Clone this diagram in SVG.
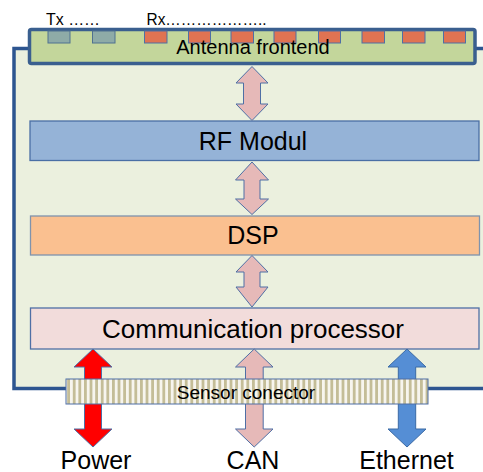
<svg xmlns="http://www.w3.org/2000/svg" width="483" height="472" viewBox="0 0 483 472">
<defs>
<style>
text{font-family:"Liberation Sans",Arial,sans-serif;fill:#000;}
.box{stroke-width:1.3;}
.pink{fill:#e6b9b8;stroke:#4f6fa5;stroke-width:1;}
.tx{fill:#8eaba7;stroke:#4f7090;stroke-width:1;}
.rx{fill:#e07352;stroke:#4f6fa5;stroke-width:1;}
</style>
<pattern id="stripes" x="0" y="0" width="5.6" height="10" patternUnits="userSpaceOnUse">
<rect x="0" y="0" width="5.6" height="10" fill="#f7f5ee"/>
<rect x="0" y="0" width="2.8" height="10" fill="#c4bd97"/>
</pattern>
</defs>
<rect width="483" height="472" fill="#ffffff"/>
<g id="container">
<rect x="14" y="48.5" width="500" height="340" fill="#ebf0de" stroke="#2d5590" stroke-width="3.5"/>
</g>
<g id="antenna">
<rect x="29.5" y="29.5" width="445.5" height="34" rx="2" fill="#c3d69b" stroke="#3a5f8f" stroke-width="3.5"/>
<rect class="tx" x="48" y="31" width="22" height="12"/>
<rect class="tx" x="92.5" y="31" width="22.5" height="12"/>
<rect class="rx" x="144.5" y="31" width="22.5" height="12"/>
<rect class="rx" x="188.5" y="31" width="22" height="12"/>
<rect class="rx" x="231" y="31" width="22.5" height="12"/>
<rect class="rx" x="274" y="31" width="22" height="12"/>
<rect class="rx" x="318.5" y="31" width="22" height="12"/>
<rect class="rx" x="362" y="31" width="22.5" height="12"/>
<rect class="rx" x="402.5" y="31" width="22.5" height="12"/>
<rect class="rx" x="443.5" y="31" width="22" height="12"/>
<text x="253" y="53.5" font-size="20" text-anchor="middle">Antenna frontend</text>
</g>
<g id="labels-txrx">
<text x="46" y="25" font-size="17" textLength="54" lengthAdjust="spacingAndGlyphs">Tx ……</text>
<text x="146.5" y="25" font-size="17" textLength="120" lengthAdjust="spacingAndGlyphs">Rx………………..</text>
</g>
<g id="rf">
<rect class="box" x="30" y="121" width="449" height="39.5" fill="#95b3d7" stroke="#4a6fa5"/>
<text x="253" y="150" font-size="25" text-anchor="middle">RF Modul</text>
</g>
<g id="dsp">
<rect class="box" x="30.5" y="216" width="449" height="39" fill="#fac090" stroke="#7f93ad"/>
<text x="253" y="244" font-size="25" text-anchor="middle">DSP</text>
</g>
<g id="comm">
<rect class="box" x="30.5" y="308" width="448.5" height="41" fill="#f2dcdb" stroke="#4f6fa5"/>
<text x="253" y="338" font-size="25" text-anchor="middle" textLength="302" lengthAdjust="spacingAndGlyphs">Communication processor</text>
</g>
<g id="connectors">
<path class="pink" d="M252 66.5 L268 83 L260.5 83 L260.5 104 L268 104 L252 120.5 L236 104 L243.5 104 L243.5 83 L236 83 Z"/>
<path class="pink" d="M252 162 L268.5 180 L260 180 L260 199 L268.5 199 L252 214.5 L235.5 199 L244 199 L244 180 L235.5 180 Z"/>
<path class="pink" d="M252 255.5 L268 272 L260 272 L260 287 L268 287 L252 307 L236 287 L244 287 L244 272 L236 272 Z"/>
<path fill="#ff0000" stroke="#4f6fa5" stroke-width="1" d="M93 349 L112 367 L101.5 367 L101.5 429 L112 429 L93 447 L74 429 L84.5 429 L84.5 367 L74 367 Z"/>
<path class="pink" d="M254.2 349 L273 367 L263.2 367 L263.2 429 L273 429 L254.2 447 L235.5 429 L245.5 429 L245.5 367 L235.5 367 Z"/>
<path fill="#558ed5" stroke="#3b6aa5" stroke-width="1" d="M407 349 L426 367 L415.7 367 L415.7 429 L426 429 L407 447 L388 429 L398.3 429 L398.3 367 L388 367 Z"/>
</g>
<g id="sensor">
<rect x="66" y="379" width="362" height="25" fill="url(#stripes)" stroke="#4f6fa5" stroke-width="1"/>
<text x="246" y="399" font-size="19" text-anchor="middle">Sensor conector</text>
</g>
<g id="bottom-labels">
<text x="96" y="469" font-size="25" text-anchor="middle">Power</text>
<text x="253" y="469" font-size="25" text-anchor="middle">CAN</text>
<text x="406.5" y="469" font-size="25" text-anchor="middle">Ethernet</text>
</g>
</svg>
